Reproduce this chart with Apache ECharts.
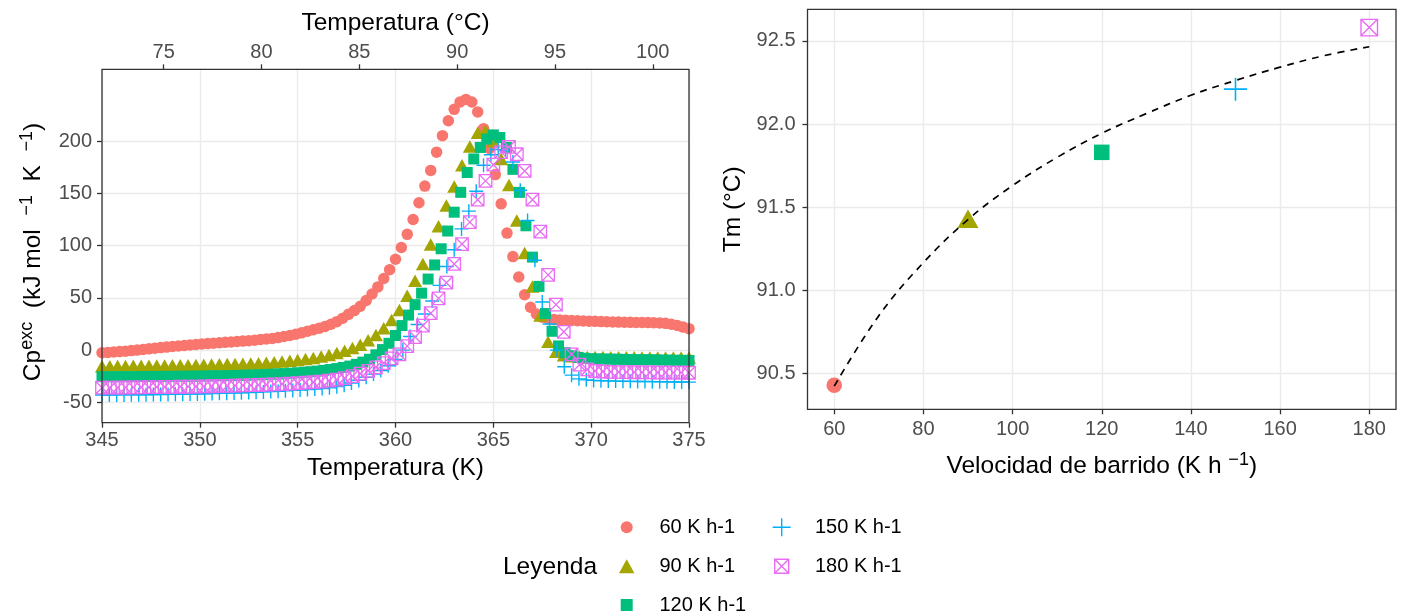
<!DOCTYPE html>
<html>
<head>
<meta charset="utf-8">
<script src="https://cdn.jsdelivr.net/npm/echarts@6/dist/echarts.min.js"></script>
<style>html,body{margin:0;padding:0;background:#fff}#c{width:1401px;height:616px}</style>
</head>
<body>
<div id="c"></div>
<script>
// ================= DATA =================
const seriesNames = ['60 K h-1', '90 K h-1', '120 K h-1', '150 K h-1', '180 K h-1'];

// Left panel: excess heat capacity (kJ mol-1 K-1), sampled from 345 K at a regular step per scan rate
const tempStartK = 345;
const tempStep60 = 0.3;
const tempStep90 = 0.4;
const tempStep120 = 1 / 3;
const tempStep150 = 0.375;
const tempStep180 = 0.4;

const cp60 = [
  -2.5, -2.2, -1.8, -1.4, -1.0, -0.5, 0.0, 0.6, 1.2, 1.8,
  2.4, 2.9, 3.4, 3.9, 4.4, 4.9, 5.4, 5.8, 6.2, 6.6,
  7.0, 7.4, 7.8, 8.2, 8.6, 9.0, 9.5, 10.1, 10.6, 11.2,
  12.0, 13.0, 14.0, 15.2, 16.5, 18.0, 19.5, 21.0, 22.7, 24.7,
  27.2, 30.5, 34.2, 37.8, 42.0, 47.5, 53.7, 60.5, 68.5, 77.0,
  87.0, 98.2, 110.8, 125.0, 141.0, 157.0, 172.0, 189.5, 205.3, 219.5,
  230.5, 237.5, 240.0, 237.5, 228.0, 212.0, 193.0, 168.0, 140.0, 112.0,
  89.5, 70.0, 53.0, 41.0, 34.5, 31.5, 30.0, 29.2, 28.8, 28.5,
  28.3, 28.1, 27.9, 27.7, 27.5, 27.3, 27.1, 27.0, 26.8, 26.7,
  26.6, 26.5, 26.4, 26.3, 26.2, 26.0, 25.6, 24.8, 23.5, 22.0,
  20.5
];
const cp90 = [
  -15.5, -15.4, -15.3, -15.2, -15.1, -15.0, -14.9, -14.8, -14.7, -14.6,
  -14.5, -14.4, -14.2, -14.0, -13.8, -13.6, -13.4, -13.2, -13.0, -12.8,
  -12.5, -12.1, -11.6, -11.0, -10.3, -9.5, -8.6, -7.5, -6.2, -4.6,
  -2.8, -0.6, 2.0, 5.2, 9.5, 14.5, 21.0, 28.7, 38.5, 52.0,
  66.4, 82.5, 101.0, 118.5, 138.5, 156.5, 177.0, 195.0, 208.0, 210.0,
  200.0, 183.0, 158.0, 124.0, 93.0, 61.0, 33.0, 8.0, -1.5, -5.0,
  -6.0, -6.3, -6.5, -6.6, -6.7, -6.8, -6.8, -6.9, -6.9, -7.0,
  -7.0, -7.0, -7.1, -7.1, -7.2, -7.2
];
const cp120 = [
  -25.5, -25.5, -25.5, -25.4, -25.4, -25.4, -25.3, -25.3, -25.2, -25.2,
  -25.1, -25.1, -25.0, -25.0, -24.9, -24.8, -24.7, -24.6, -24.5, -24.4,
  -24.3, -24.2, -24.0, -23.8, -23.6, -23.4, -23.1, -22.8, -22.5, -22.1,
  -21.7, -21.2, -20.7, -20.1, -19.4, -18.6, -17.7, -16.6, -15.3, -13.6,
  -11.5, -8.8, -4.5, 0.5, 6.5, 14.0, 23.5, 33.5, 43.5, 54.5,
  68.0, 81.5, 97.0, 114.0, 132.0, 151.0, 170.0, 183.0, 194.0, 202.0,
  206.0, 203.5, 194.0, 173.0, 151.0, 119.0, 89.0, 61.0, 35.0, 18.0,
  4.0, -2.5, -5.5, -7.0, -7.8, -8.2, -8.4, -8.6, -8.7, -8.8,
  -8.9, -9.0, -9.1, -9.2, -9.3, -9.4, -9.5, -9.6, -9.7, -9.8,
  -9.9
];
const cp150 = [
  -43.0, -43.0, -42.9, -42.9, -42.8, -42.8, -42.7, -42.6, -42.5, -42.4,
  -42.3, -42.2, -42.1, -42.0, -41.8, -41.6, -41.4, -41.2, -41.0, -40.8,
  -40.6, -40.3, -40.0, -39.7, -39.4, -39.0, -38.6, -38.2, -37.8, -37.3,
  -36.7, -36.0, -35.0, -33.6, -31.5, -29.0, -26.0, -23.0, -19.5, -15.0,
  -9.0, 0.0, 13.0, 24.5, 34.5, 47.0, 62.0, 80.0, 96.0, 116.0,
  133.0, 152.0, 177.0, 187.0, 192.0, 191.0, 180.0, 153.0, 124.0, 86.0,
  46.0, 25.0, 0.0, -16.0, -24.0, -27.5, -28.5, -29.0, -29.3, -29.5,
  -29.7, -29.8, -29.9, -30.0, -30.1, -30.2, -30.3, -30.4, -30.5, -30.6,
  -30.7
];
const cp180 = [
  -36.0, -36.0, -35.9, -35.8, -35.7, -35.6, -35.5, -35.4, -35.3, -35.2,
  -35.1, -35.0, -34.9, -34.8, -34.6, -34.4, -34.2, -34.0, -33.8, -33.6,
  -33.4, -33.1, -32.8, -32.5, -32.1, -31.7, -31.2, -30.7, -30.1, -29.3,
  -28.3, -26.9, -25.0, -22.6, -19.8, -16.5, -12.5, -8.0, -4.0, 3.8,
  12.5, 23.5, 35.3, 49.5, 64.5, 82.5, 101.5, 122.5, 144.0, 162.0,
  177.5, 189.5, 194.5, 187.5, 171.5, 144.0, 113.5, 72.0, 43.5, 17.5,
  -4.0, -14.0, -18.5, -20.0, -20.5, -20.8, -21.0, -21.1, -21.2, -21.3,
  -21.4, -21.5, -21.5, -21.6, -21.6, -21.7
];

const kelvinTicks = [345, 350, 355, 360, 365, 370, 375];
const celsiusTicks = [75, 80, 85, 90, 95, 100];
const cpTicks = [-50, 0, 50, 100, 150, 200];

// Right panel: melting temperature vs scan rate
const scanRates = [60, 90, 120, 150, 180];
const tmValues = [90.43, 91.43, 91.83, 92.21, 92.58];
const fitRates = [60, 70, 80, 90, 100, 110, 120, 130, 140, 150, 160, 170, 180];
const fitTm = [90.424, 90.848, 91.167, 91.426, 91.63, 91.80, 91.944, 92.063, 92.173, 92.262, 92.342, 92.412, 92.465];
const rateTicks = [60, 80, 100, 120, 140, 160, 180];
const tmTicks = [90.5, 91.0, 91.5, 92.0, 92.5];

// ================= STYLE / LAYOUT =================
const colors = ['#F8766D', '#A3A500', '#00BF7D', '#00B0F6', '#E76BF3'];
const FONT = '"Liberation Sans", Arial, Helvetica, sans-serif';
const G1 = { left: 102, top: 69.3, width: 587, height: 353.4 };
const G2 = { left: 807.5, top: 9.3, width: 588.5, height: 400 };
const PLUS = 'path://M0,6L12,6M6,0L6,12';
const BOXX = 'path://M0,0L12,0L12,12L0,12ZM0,0L12,12M12,0L0,12';

const cpData = [cp60, cp90, cp120, cp150, cp180];
const cpSteps = [tempStep60, tempStep90, tempStep120, tempStep150, tempStep180];

const symLeft = [
  { symbol: 'circle', size: 11.5 },
  { symbol: 'triangle', size: [14, 12.5] },
  { symbol: 'rect', size: 11 },
  { symbol: PLUS, size: 14, stroke: 1.4 },
  { symbol: BOXX, size: 12.5, stroke: 1.3 }
];
const symRight = [
  { symbol: 'circle', size: 15.5 },
  { symbol: 'triangle', size: [21, 18.5] },
  { symbol: 'rect', size: 15.5 },
  { symbol: PLUS, size: 23, stroke: 1.6 },
  { symbol: BOXX, size: 16.5, stroke: 1.4 }
];

function itemStyleFor(i, s) {
  if (s.stroke) return { color: 'rgba(0,0,0,0)', borderColor: colors[i], borderWidth: s.stroke, opacity: 1 };
  return { color: colors[i], borderWidth: 0, opacity: 1 };
}

const tickLabel = { fontFamily: FONT, fontSize: 20, color: '#4D4D4D' };
const gridLine = { show: true, lineStyle: { color: '#EBEBEB', width: 1.4 } };
function ticks(vals) { return { show: true, length: 5, customValues: vals, lineStyle: { color: '#333333', width: 1.3 } }; }
const noLine = { show: false, onZero: false };

const series = [];
cpData.forEach((arr, i) => {
  series.push({
    name: seriesNames[i], type: 'scatter', xAxisIndex: 0, yAxisIndex: 0,
    symbol: symLeft[i].symbol, symbolSize: symLeft[i].size,
    itemStyle: itemStyleFor(i, symLeft[i]),
    emphasis: { disabled: true }, clip: true, z: 2,
    data: arr.map((v, k) => [tempStartK + k * cpSteps[i], v])
  });
});
scanRates.forEach((r, i) => {
  series.push({
    name: seriesNames[i], type: 'scatter', xAxisIndex: 2, yAxisIndex: 1,
    symbol: symRight[i].symbol, symbolSize: symRight[i].size,
    itemStyle: itemStyleFor(i, symRight[i]),
    emphasis: { disabled: true }, z: 2,
    data: [[r, tmValues[i]]]
  });
});
series.push({
  name: 'ajuste', type: 'line', xAxisIndex: 2, yAxisIndex: 1,
  smooth: 0.4, symbol: 'none', showSymbol: false, z: 3,
  lineStyle: { color: '#000000', width: 1.7, type: [7, 6] },
  emphasis: { disabled: true },
  data: fitRates.map((x, k) => [x, fitTm[k]])
});

// legend entries (one legend component per key so each icon gets its own size)
const LEG_TEXT = 20;
function legendEntry(name, cx, cy, w, h, textX, stroked) {
  const left = cx - w / 2;
  return {
    data: [name], orient: 'vertical', left: left, top: cy - 10, padding: 0,
    itemWidth: w, itemHeight: h, itemGap: 0, selectedMode: false,
    textStyle: { fontFamily: FONT, fontSize: LEG_TEXT, color: '#000000', lineHeight: 20,
      padding: [0, 0, 0, textX - (left + w + 5)] },
    itemStyle: stroked ? { borderWidth: 1.4 } : {}
  };
}
const rowY = [527.3, 566.2, 605];
const legends = [
  legendEntry(seriesNames[0], 626.7, rowY[0], 12, 12, 659.5, false),
  legendEntry(seriesNames[1], 626.7, rowY[1], 15.5, 14, 659.5, false),
  legendEntry(seriesNames[2], 626.7, rowY[2], 12, 12, 659.5, false),
  legendEntry(seriesNames[3], 781, rowY[0], 18, 18, 814.3, true),
  legendEntry(seriesNames[4], 781, rowY[1], 14, 14, 814.3, true)
];

const TITLE = 24.5;
const sup = { fontSize: 18, fontFamily: FONT, fill: '#000000', verticalAlign: 'top', lineHeight: 18 };
function titleText(text, x, y, rot) {
  return {
    type: 'text', x: x, y: y, rotation: rot || 0, z: 50, silent: true,
    style: { text: text, fontFamily: FONT, fontSize: TITLE, fill: '#000000', align: 'center', verticalAlign: 'middle',
      lineHeight: 30, rich: { sup: sup } }
  };
}

const option = {
  animation: false,
  backgroundColor: '#ffffff',
  grid: [
    { left: G1.left, top: G1.top, width: G1.width, height: G1.height, containLabel: false },
    { left: G2.left, top: G2.top, width: G2.width, height: G2.height, containLabel: false }
  ],
  xAxis: [
    { gridIndex: 0, type: 'value', position: 'bottom', min: 345, max: 375, interval: 2.5,
      axisLine: noLine, splitLine: gridLine, axisTick: ticks(kelvinTicks),
      axisLabel: Object.assign({ margin: 8, customValues: kelvinTicks }, tickLabel) },
    { gridIndex: 0, type: 'value', position: 'top', min: 345 - 273.15, max: 375 - 273.15,
      axisLine: noLine, splitLine: { show: false }, axisTick: ticks(celsiusTicks),
      axisLabel: Object.assign({ margin: 7, customValues: celsiusTicks }, tickLabel) },
    { gridIndex: 1, type: 'value', position: 'bottom', min: 54, max: 186, minInterval: 10, maxInterval: 10,
      axisLine: noLine, splitLine: gridLine, axisTick: ticks(rateTicks),
      axisLabel: Object.assign({ margin: 10, customValues: rateTicks }, tickLabel) }
  ],
  yAxis: [
    { gridIndex: 0, type: 'value', min: -69.5, max: 268.8, minInterval: 25, maxInterval: 25,
      axisLine: noLine, splitLine: gridLine, axisTick: ticks(cpTicks),
      axisLabel: Object.assign({ margin: 10, customValues: cpTicks }, tickLabel) },
    { gridIndex: 1, type: 'value', min: 90.285, max: 92.69, minInterval: 0.25, maxInterval: 0.25,
      axisLine: noLine, splitLine: gridLine, axisTick: ticks(tmTicks),
      axisLabel: Object.assign({ margin: 12, customValues: tmTicks, formatter: v => Number(v).toFixed(1) }, tickLabel) }
  ],
  legend: legends,
  series: series,
  graphic: [
    { type: 'rect', z: 100, silent: true, shape: { x: G1.left, y: G1.top, width: G1.width, height: G1.height },
      style: { fill: 'none', stroke: '#333333', lineWidth: 1.3 } },
    { type: 'rect', z: 100, silent: true, shape: { x: G2.left, y: G2.top, width: G2.width, height: G2.height },
      style: { fill: 'none', stroke: '#333333', lineWidth: 1.3 } },
    titleText('Temperatura (°C)', G1.left + G1.width / 2, 23),
    titleText('Temperatura (K)', G1.left + G1.width / 2, 468),
    titleText('Cp{sup|exc}  (kJ mol  {sup|−1}  K  {sup|−1})', 33, 252, Math.PI / 2),
    titleText('Velocidad de barrido (K h {sup|−1})', G2.left + G2.width / 2, 466),
    titleText('Tm (°C)', 733, G2.top + G2.height / 2, Math.PI / 2),
    titleText('Leyenda', 550, 567)
  ]
};

const chart = echarts.init(document.getElementById('c'), null, { renderer: 'canvas' });
chart.setOption(option);
</script>
</body>
</html>
